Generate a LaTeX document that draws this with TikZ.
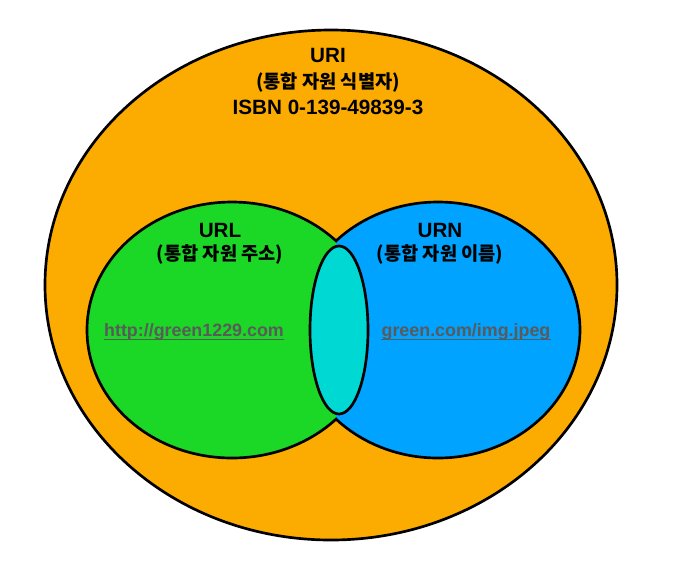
\documentclass[tikz,border=0pt]{standalone}
\usepackage{fontspec}
\setmainfont{Liberation Sans}
\newfontfamily\krfont{Noto Sans CJK KR}

\definecolor{uriorange}{RGB}{252,172,0}
\definecolor{urlgreen}{RGB}{27,216,38}
\definecolor{urnblue}{RGB}{0,163,255}
\definecolor{bothcyan}{RGB}{0,216,212}
\definecolor{linkgray}{RGB}{90,90,90}

\tikzset{every picture/.style={line width=0.75pt}}
\tikzset{
  outline/.style={draw=black, line width=2pt},
  title/.style={font=\bfseries\fontsize{15.5}{18}\selectfont},
  kotitle/.style={font=\krfont\bfseries\fontsize{14}{17}\selectfont},
  link/.style={text=linkgray, inner sep=0pt, font=\bfseries\fontsize{13.4}{16}\selectfont},
  linkline/.style={draw=linkgray, line width=1pt}
}

\begin{document}
\begin{tikzpicture}[x=0.75pt,y=0.75pt,yscale=-1,xscale=1]
	\useasboundingbox (0,0) rectangle (674,569);

	%Shape: Ellipse [URI]
	\draw [outline, fill=uriorange] (331,285) ellipse (286 and 255);
	%Shape: Ellipse [URN fill]
	\fill [urnblue] (438,330) ellipse (142 and 128);
	%Shape: Ellipse [URL fill, left of the crossing]
	\begin{scope}
		\clip (0,0) rectangle (336,569);
		\fill [urlgreen] (232,330) ellipse (145 and 128);
		\draw [outline] (232,330) ellipse (145 and 128);
	\end{scope}
	%Shape: Ellipse [URN outline, right of the crossing]
	\begin{scope}
		\clip (336,0) rectangle (674,569);
		\draw [outline] (438,330) ellipse (142 and 128);
	\end{scope}
	%Shape: Ellipse [both]
	\draw [outline, fill=bothcyan] (339,330) ellipse (29 and 84);

	% Text Node
	\draw (328,55) node (uri) [title] {URI};
	% Text Node
	\draw (328,82) node (urinameko) [kotitle] {(통합 자원 식별자)};
	% Text Node
	\draw (328,107) node (isbn) [title] {ISBN 0-139-49839-3};
	% Text Node
	\draw (220,230) node (url) [title] {URL};
	% Text Node
	\draw (220,254) node (urlnameko) [kotitle] {(통합 자원 주소)};
	% Text Node
	\draw (440,230) node (urn) [title] {URN};
	% Text Node
	\draw (440,254) node (urnnameko) [kotitle] {(통합 자원 이름)};
	% Text Node
	\draw (194,332) node (urlex) [link] {http://green1229.com};
	% Text Node
	\draw (466,332) node (urnex) [link] {green.com/img.jpeg};

	%Straight Lines [underlines]
	\draw [linkline] ([yshift=2pt]urlex.base west) -- ([yshift=2pt]urlex.base east);
	\draw [linkline] ([yshift=2pt]urnex.base west) -- ([yshift=2pt]urnex.base east);

\end{tikzpicture}
\end{document}
